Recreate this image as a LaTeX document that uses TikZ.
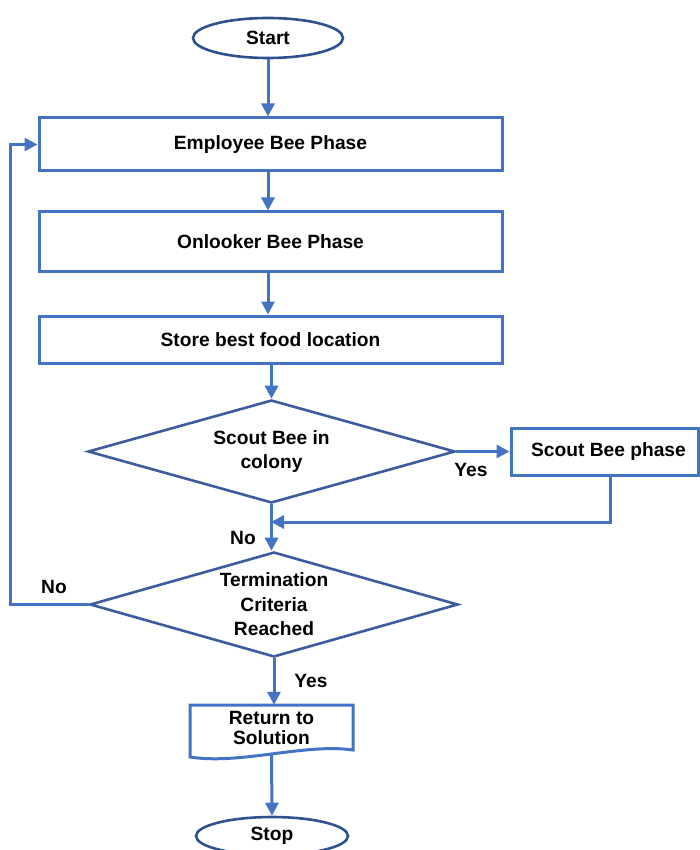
\documentclass[tikz,border=0pt]{standalone}
\usepackage{fontspec}
\setmainfont{Liberation Sans}
\usetikzlibrary{shapes.geometric,arrows.meta,calc}
\definecolor{boxblue}{HTML}{4472C4}
\definecolor{shapeblue}{HTML}{3B5C9E}
\definecolor{ovalblue}{HTML}{2F528F}
\tikzset{
  every node/.style={font=\fontsize{19.2}{24.5}\selectfont\bfseries, text=black},
  procbox/.style={draw=boxblue, line width=3pt, rectangle, inner sep=0pt, align=center},
  terminal/.style={draw=ovalblue, line width=2.6pt, ellipse, inner sep=0pt},
  decision/.style={draw=shapeblue, line width=2.6pt, diamond, inner sep=0pt, align=center, aspect=3.5},
  arr/.style={draw=boxblue, line width=3pt, -{Triangle[length=13pt,width=13pt]}},
  docline/.style={draw=boxblue, line width=3pt, line join=miter},
  lbl/.style={inner sep=0pt},
}
\begin{document}
\begin{tikzpicture}[x=1pt,y=-1pt]
\useasboundingbox (0,0) rectangle (700,850);

% process chain
\node[terminal, minimum width=150pt, minimum height=40pt] (start) at (268,38) {Start};
\node[procbox, minimum width=463pt, minimum height=53pt] (emp) at (270.5,144.5) {Employee Bee Phase};
\node[procbox, minimum width=463pt, minimum height=59pt] (onl) at (270.5,241.5) {Onlooker Bee Phase};
\node[procbox, minimum width=463pt, minimum height=47pt] (store) at (270.5,339.5) {Store best food location};
\node[decision, minimum width=367pt, minimum height=103pt] (d1) at (271.5,451.5) {Scout Bee in\\colony};
\node[procbox, minimum width=187pt, minimum height=47pt] (scout) at (604.5,451.5) {\hspace*{8pt}Scout Bee phase};
\node[decision, minimum width=368pt, minimum height=105pt, inner sep=-6pt] (d2) at (274,604.5) {Termination\\Criteria\\Reached};

% document shape with wavy bottom
\node[lbl, minimum width=163pt, minimum height=46pt, align=center,
      font=\fontsize{19.2}{20}\selectfont\bfseries] (doc) at (271.5,728) {Return to\\Solution};
\draw[docline] (190,757) -- (190,705) -- (353,705) -- (353,750)
  .. controls (305,743) and (240,765) .. cycle;
\coordinate (docb) at (271.5,754);

\node[terminal, minimum width=152pt, minimum height=38pt] (stop) at (272,836) {Stop};

\coordinate (merge) at (271,522);

% connectors
\draw[arr] (start.south) -- (start.south |- emp.north);
\draw[arr] (emp.south -| start) -- (onl.north -| start);
\draw[arr] (onl.south -| start) -- (store.north -| start);
\draw[arr] (store.south -| d1) -- (d1.north);
\draw[arr] (d1.east) -- (scout.west);
\draw[arr] ([xshift=5.5pt]scout.south) |- (merge);
\draw[arr] (d1.south) -- (d2.north -| d1.south);
\draw[arr] (d2.west) -- ++(-78,0) |- (emp.west);
\draw[arr] (d2.south) -- (d2.south |- doc.north);
\draw[arr] (docb) -- (stop.north);

% branch labels
\node[lbl] (yes1) at (471,470) {Yes};
\node[lbl] (no1) at (243,538) {No};
\node[lbl] (no2) at (54,587) {No};
\node[lbl] (yes2) at (311,681) {Yes};
\end{tikzpicture}
\end{document}
